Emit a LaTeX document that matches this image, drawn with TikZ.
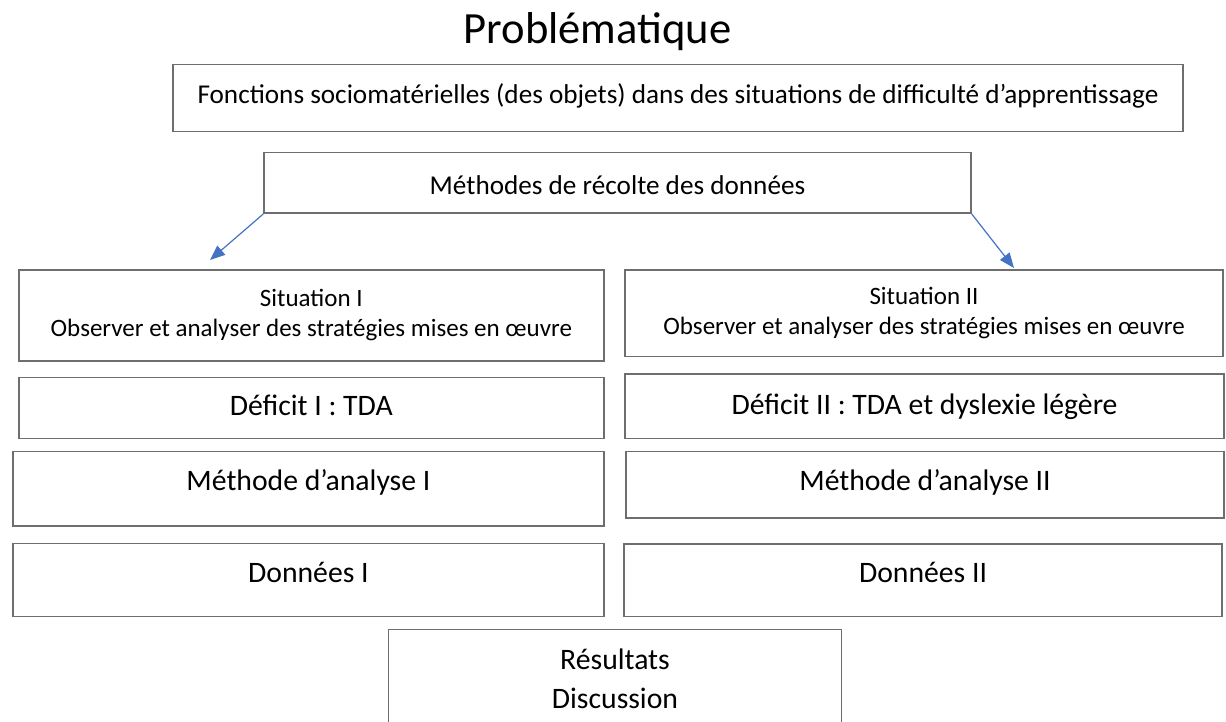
\documentclass[tikz,border=0pt]{standalone}
\usepackage{fontspec}
\setmainfont{Carlito}
\usetikzlibrary{arrows.meta}
\definecolor{boxgray}{HTML}{6E6E6E}
\definecolor{arrowblue}{HTML}{4472C4}
\begin{document}
\begin{tikzpicture}[x=1pt,y=-1pt,
    box/.style={draw=boxgray,line width=1.5pt,inner sep=0pt,anchor=north,align=center},
    txtsmall/.style={font=\fontsize{25}{30}\selectfont},
    txtmid/.style={font=\fontsize{27.2}{32}\selectfont},
    txtbig/.style={font=\fontsize{29.7}{39}\selectfont},
    link/.style={draw=arrowblue,line width=1.2pt,-{Triangle[length=15pt,width=12pt]}}]
    \useasboundingbox (0,0) rectangle (1226,722);
    \clip (0,0) rectangle (1226,722);
    \node[font=\fontsize{44.6}{50}\selectfont,anchor=base] (title) at (597.5,43.5) {Problématique};
    \node[box,txtmid,minimum width=1010pt,text height=39pt,text depth=28pt] (fonctions) at (678,64)
        {Fonctions sociomatérielles (des objets) dans des situations de difficulté d’apprentissage};
    \node[box,txtmid,minimum width=707pt,text height=42pt,text depth=18.5pt] (recolte) at (617.5,152)
        {Méthodes de récolte des données};
    % situation I
    \node[box,txtsmall,minimum width=585pt,minimum height=91pt] (sitA) at (311.3,269)
        {Situation I\\Observer et analyser des stratégies mises en œuvre};
    \node[box,txtbig,minimum width=585pt,text height=38.3pt,text depth=22.7pt] (deficitA) at (311.3,376.7)
        {Déficit I : TDA};
    \node[box,txtbig,minimum width=591pt,text height=39.3pt,text depth=35pt] (analyseA) at (308.4,450.7)
        {Méthode d’analyse I};
    \node[box,txtbig,minimum width=591pt,text height=39pt,text depth=34pt] (donneesA) at (308.4,542.7)
        {Données I};
    % situation II
    \node[box,txtsmall,minimum width=598pt,minimum height=86.7pt] (sitB) at (924,269)
        {Situation II\\Observer et analyser des stratégies mises en œuvre};
    \node[box,txtbig,minimum width=599pt,text height=40pt,text depth=24.4pt] (deficitB) at (924.5,373.3)
        {Déficit II : TDA et dyslexie légère};
    \node[box,txtbig,minimum width=598pt,text height=39.3pt,text depth=27.3pt] (analyseB) at (925,450.7)
        {Méthode d’analyse II};
    \node[box,txtbig,minimum width=598pt,text height=38.4pt,text depth=34pt] (donneesB) at (923,543.3)
        {Données II};
    \node[box,txtbig,minimum width=453pt,minimum height=100pt] (resultats) at (615,628.5)
        {Résultats\\Discussion};
    \coordinate (tipA) at (210,260);
    \coordinate (tipB) at (1014,268);
    \draw[link] (recolte.south west) -- (tipA);
    \draw[link] (recolte.south east) -- (tipB);
\end{tikzpicture}
\end{document}
